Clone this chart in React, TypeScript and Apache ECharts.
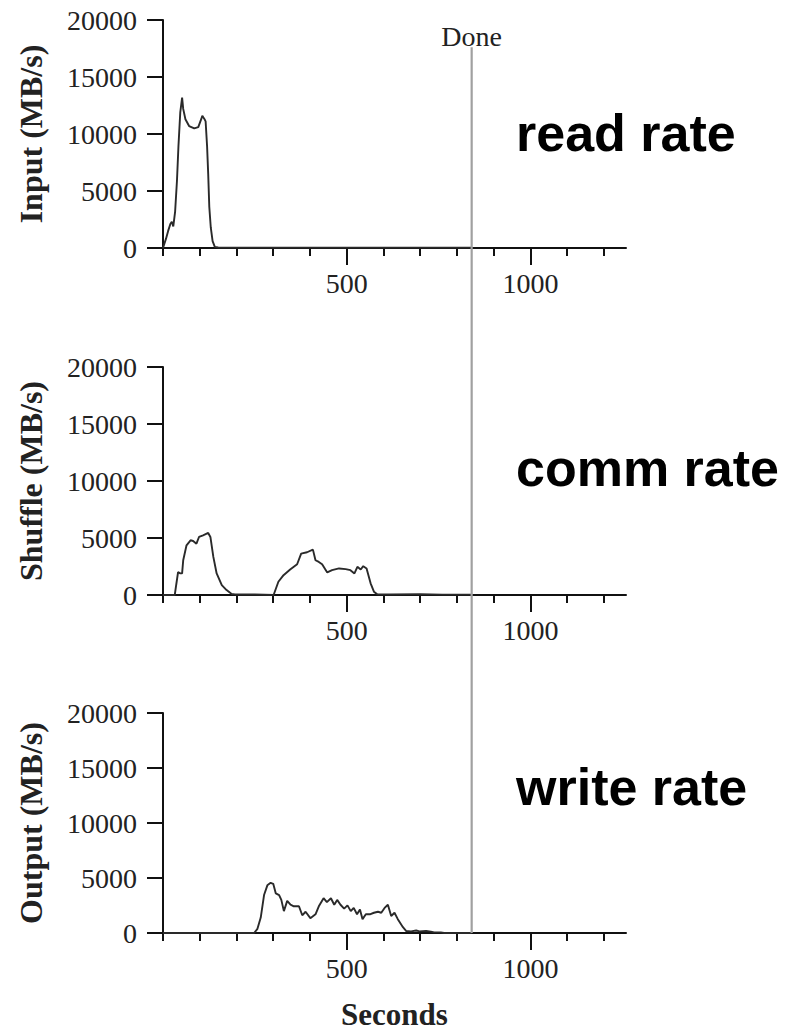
import React, { useEffect, useRef } from "react";
import * as echarts from "echarts";

// ---- Data (seconds, MB/s) ----
const inputTime = [0, 8, 14, 20, 24, 28, 33, 38, 42, 47, 52, 55, 61, 71, 85, 96, 104, 107, 113, 116, 120, 123, 126, 130, 135, 141, 150, 200, 300, 400, 500, 600, 700, 800, 840];
const inputRate = [0, 800, 1500, 2100, 2300, 1900, 3200, 5900, 8900, 11900, 13200, 12200, 11300, 10700, 10500, 10600, 11300, 11600, 11300, 11100, 8900, 6500, 3600, 1800, 600, 100, 40, 30, 30, 30, 30, 30, 30, 30, 30];

const shuffleTime = [0, 32, 36, 41, 47, 52, 55, 64, 75, 82, 91, 98, 109, 123, 129, 137, 146, 160, 173, 187, 196, 250, 301, 314, 328, 346, 365, 376, 392, 408, 415, 424, 433, 447, 460, 479, 497, 510, 521, 529, 538, 545, 554, 565, 574, 583, 620, 700, 760, 840];
const shuffleRate = [0, 0, 900, 2000, 1900, 1900, 3050, 4360, 4800, 4740, 4500, 5090, 5230, 5440, 5090, 3340, 1890, 870, 430, 90, 50, 40, 0, 1160, 1740, 2240, 2700, 3630, 3750, 3980, 3050, 2900, 2700, 1980, 2180, 2330, 2270, 2180, 1890, 2470, 2240, 2530, 2330, 1020, 290, 60, 40, 80, 30, 30];

const outputTime = [0, 248, 257, 266, 275, 284, 293, 300, 307, 316, 322, 329, 338, 347, 356, 370, 379, 388, 401, 415, 424, 437, 446, 457, 466, 474, 483, 493, 502, 511, 519, 528, 536, 543, 552, 563, 574, 585, 594, 603, 612, 621, 630, 639, 653, 662, 675, 689, 698, 716, 729, 738, 756, 765, 840];
const outputRate = [0, 0, 380, 1400, 3450, 4330, 4560, 4470, 3600, 3450, 3010, 1990, 2920, 2570, 2430, 2430, 1610, 1930, 1350, 1700, 2430, 3160, 2810, 3160, 2570, 3010, 2570, 2220, 2510, 1990, 2280, 1700, 2130, 1260, 1700, 1700, 1840, 1930, 1840, 2280, 2570, 1550, 1840, 1260, 530, 180, 150, 230, 150, 180, 120, 60, 60, 0, 0];

const yTicks = [0, 5000, 10000, 15000, 20000];
const xMinorTicks = [0, 100, 200, 300, 400, 500, 600, 700, 800, 900, 1000, 1100, 1200];
const xMajorTicks = [500, 1000];
const xMax = 1260;
const DONE_SECONDS = 840;
const panelNames = ["Input (MB/s)", "Shuffle (MB/s)", "Output (MB/s)"];
const panelNotes = ["read rate", "comm rate", "write rate"];

const SERIF = "'Liberation Serif', 'Times New Roman', serif";
const SANS = "'Liberation Sans', Arial, sans-serif";

const gridTops = [20, 367, 713];
const GRID_H = 228;
const GRID_LEFT = 163;
const GRID_W = 463;
const noteCenters = [133, 468, 787];

function pairs(t: number[], v: number[]) {
  return t.map((x, i) => [x, v[i]]);
}

export default function App() {
  const ref = useRef<HTMLDivElement>(null);

  useEffect(() => {
    document.body.style.margin = "0";
    if (!ref.current) return;
    const chart = echarts.init(ref.current, null, { renderer: "svg" });

    const grids = gridTops.map((top) => ({
      left: GRID_LEFT,
      top,
      width: GRID_W,
      height: GRID_H,
      containLabel: false,
    }));

    const xAxes: any[] = [];
    gridTops.forEach((_, g) => {
      xAxes.push({
        type: "value",
        gridIndex: g,
        min: 0,
        max: xMax,
        position: "bottom",
        axisLine: { show: true, onZero: false, lineStyle: { color: "#111", width: 2 } },
        axisTick: { show: true, customValues: xMinorTicks, length: 8, lineStyle: { color: "#111", width: 2 } },
        axisLabel: { show: false },
        splitLine: { show: false },
        ...(g === 2
          ? {
              name: "Seconds",
              nameLocation: "middle",
              nameGap: 66,
              nameTextStyle: { fontFamily: SERIF, fontWeight: "bold", fontSize: 31, color: "#222" },
            }
          : {}),
      });
      xAxes.push({
        type: "value",
        gridIndex: g,
        min: 0,
        max: xMax,
        position: "bottom",
        axisLine: { show: false, onZero: false },
        axisTick: { show: true, customValues: xMajorTicks, length: 17, lineStyle: { color: "#111", width: 2 } },
        axisLabel: {
          show: true,
          customValues: xMajorTicks,
          formatter: (v: number) => String(v),
          fontFamily: SERIF,
          fontSize: 28,
          color: "#222",
          margin: 21,
        },
        splitLine: { show: false },
      });
    });

    const yAxes = gridTops.map((_, g) => ({
      type: "value",
      gridIndex: g,
      min: 0,
      max: 20000,
      interval: 5000,
      axisLine: { show: true, lineStyle: { color: "#111", width: 2 } },
      axisTick: { show: true, length: 16, customValues: yTicks, lineStyle: { color: "#111", width: 2 } },
      axisLabel: {
        formatter: (v: number) => String(v),
        fontFamily: SERIF,
        fontSize: 28,
        color: "#222",
        margin: 26,
      },
      splitLine: { show: false },
      name: panelNames[g],
      nameLocation: "middle",
      nameGap: 116,
      nameTextStyle: { fontFamily: SERIF, fontWeight: "bold", fontSize: 32, color: "#222" },
    }));

    const datasets = [pairs(inputTime, inputRate), pairs(shuffleTime, shuffleRate), pairs(outputTime, outputRate)];

    const series = datasets.map((d, g) => ({
      type: "line",
      xAxisIndex: g * 2,
      yAxisIndex: g,
      data: d,
      showSymbol: false,
      symbol: "none",
      smooth: false,
      lineStyle: { color: "#2a2a2a", width: 1.9 },
      z: 3,
    }));

    chart.setOption({
      animation: false,
      backgroundColor: "#fff",
      grid: grids,
      xAxis: xAxes,
      yAxis: yAxes,
      series,
    });

    const topPt = chart.convertToPixel({ gridIndex: 0 }, [DONE_SECONDS, 17600]) as number[];
    const botPt = chart.convertToPixel({ gridIndex: 2 }, [DONE_SECONDS, 0]) as number[];

    const graphics: any[] = [
      {
        type: "line",
        shape: { x1: topPt[0], y1: topPt[1], x2: botPt[0], y2: botPt[1] },
        style: { stroke: "#a0a0a0", lineWidth: 2.2 },
        z: 10,
      },
      {
        type: "text",
        x: topPt[0],
        y: topPt[1] + 3,
        style: {
          text: "Done",
          fontFamily: SERIF,
          fontSize: 28,
          fill: "#222",
          align: "center",
          verticalAlign: "bottom",
        },
        z: 11,
      },
    ];
    panelNotes.forEach((t, i) => {
      graphics.push({
        type: "text",
        x: 516,
        y: noteCenters[i],
        style: {
          text: t,
          fontFamily: SANS,
          fontWeight: "bold",
          fontSize: 52,
          fill: "#000",
          align: "left",
          verticalAlign: "middle",
        },
      });
    });
    chart.setOption({ graphic: graphics });

    return () => chart.dispose();
  }, []);

  return <div ref={ref} style={{ width: 798, height: 1031 }} />;
}
